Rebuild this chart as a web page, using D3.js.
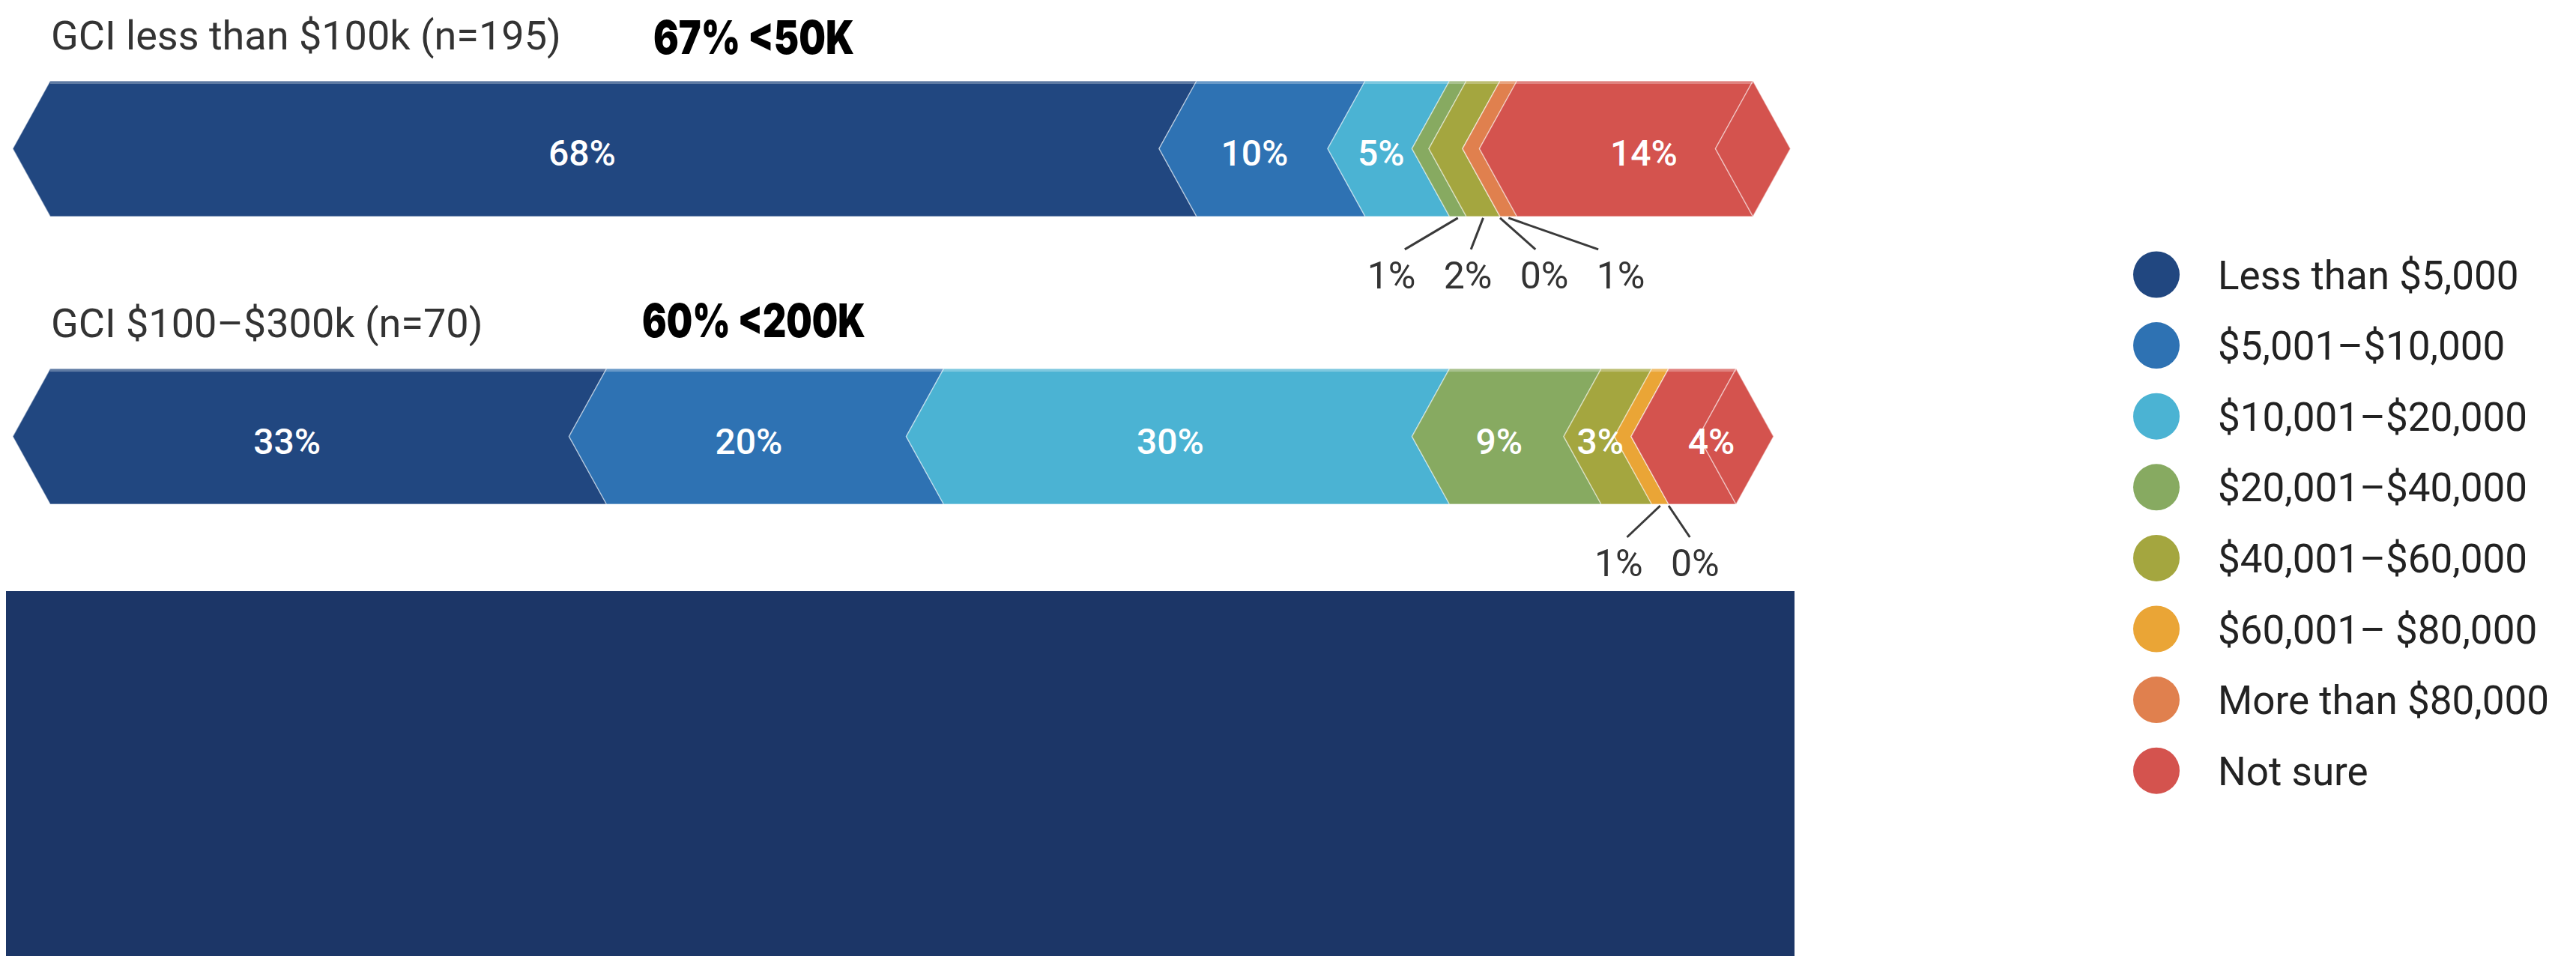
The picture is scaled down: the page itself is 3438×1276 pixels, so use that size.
<!DOCTYPE html>
<html>
<head>
<meta charset="utf-8">
<script src="https://cdn.jsdelivr.net/npm/d3@7"></script>
<style>
  body { margin: 0; background: #fff; }
  svg { display: block; }
</style>
</head>
<body>
<div id="chart"></div>
<script>
// data
const categories = ["Less than $5,000", "$5,001–$10,000", "$10,001–$20,000", "$20,001–$40,000",
    "$40,001–$60,000", "$60,001– $80,000", "More than $80,000", "Not sure"];
const groups = ["GCI less than $100k (n=195)", "GCI $100–$300k (n=70)"];
const notes = ["67% <50K", "60% <200K"];
const valuesUnder100k = [68, 10, 5, 1, 2, 0, 1, 14];
const values100to300k = [33, 20, 30, 9, 3, 1, 0, 4];
const colors = ["#214780", "#2e72b3", "#4bb3d3", "#87aa61", "#a4a63f", "#eaa536", "#e0804e", "#d4534e"];

function init() {
    const w = 3438;
    const h = 1276;
    const d = 50; // chevron depth
    const smallShift = [25, -10]; // nudge for the leader labels of each row

    const rows = [valuesUnder100k, values100to300k];

    const svg = d3.select("#chart")
        .append("svg")
        .attr("width", w)
        .attr("height", h);

    const xScale = d3.scaleLinear()
        .domain([0, 100])
        .range([67, 2317]);

    const yScale = d3.scaleBand()
        .domain(groups)
        .range([108, 673])
        .paddingInner(0.529)
        .paddingOuter(0);

    const color = d3.scaleOrdinal()
        .domain(categories)
        .range(colors);

    rows.forEach((vals, r) => {
        const y0 = yScale(groups[r]);
        const y1 = y0 + yScale.bandwidth();
        const ym = (y0 + y1) / 2;

        // stack the row
        const segs = [];
        let acc = 0;
        vals.forEach((v, i) => {
            segs.push({ cat: categories[i], v: v, a: acc, b: acc + v, i: i });
            acc += v;
        });

        const g = svg.append("g");

        // title + handwritten note
        svg.append("text")
            .attr("x", 68)
            .attr("y", y0 - 42)
            .attr("font-family", "Roboto, sans-serif")
            .attr("font-size", 54)
            .attr("fill", "#333")
            .text(groups[r]);

        svg.append("text")
            .attr("x", r === 0 ? 872 : 857)
            .attr("y", y0 - (r === 0 ? 36 : 42))
            .attr("font-family", "Inter, sans-serif")
            .attr("font-weight", 900)
            .attr("font-size", 62)
            .attr("textLength", r === 0 ? 268 : 298)
            .attr("lengthAdjust", "spacingAndGlyphs")
            .attr("fill", "#000")
            .text(notes[r]);

        g.selectAll("polygon.seg")
            .data(segs)
            .enter()
            .append("polygon")
            .attr("class", "seg")
            .attr("points", (s) => {
                const x0 = xScale(s.a), x1 = xScale(s.b);
                return [[x0, y0], [x1, y0], [x1 - d, ym], [x1, y1], [x0, y1], [x0 - d, ym]].join(" ");
            })
            .attr("fill", (s) => color(s.cat))
            .attr("stroke", "rgba(255,255,255,0.45)")
            .attr("stroke-width", 1.5)
            .attr("stroke-linejoin", "round");

        // end cap in the last colour
        const last = segs[segs.length - 1];
        const xe = xScale(last.b);
        g.append("polygon")
            .attr("points", [[xe, y0], [xe + d, ym], [xe, y1], [xe - d, ym]].join(" "))
            .attr("fill", color(last.cat))
            .attr("stroke", "rgba(255,255,255,0.45)")
            .attr("stroke-width", 1.5);

        // top highlight
        g.append("rect")
            .attr("x", xScale(0))
            .attr("y", y0)
            .attr("width", xe - xScale(0))
            .attr("height", 4)
            .attr("fill", "rgba(255,255,255,0.28)");

        // labels inside
        g.selectAll("text.in")
            .data(segs.filter((s) => s.v >= 3))
            .enter()
            .append("text")
            .attr("class", "in")
            .attr("x", (s) => xScale((s.a + s.b) / 2) + (s === last ? 12 : (s.i === 0 ? -55 : -35)))
            .attr("y", ym + 23)
            .attr("text-anchor", "middle")
            .attr("font-family", "Roboto, sans-serif")
            .attr("font-weight", 500)
            .attr("font-size", 48)
            .attr("fill", "#fff")
            .text((s) => s.v + "%");

        // small values: leader lines + labels below
        const small = segs.filter((s) => s.v < 3);
        const anchors = small.map((s) => xScale((s.a + s.b) / 2));
        const mean = d3.mean(anchors);
        const gap = 102;
        small.forEach((s, k) => {
            const lx = mean + smallShift[r] + (k - (small.length - 1) / 2) * gap;
            const ax = anchors[k];
            g.append("line")
                .attr("x1", ax)
                .attr("y1", y1 + 2)
                .attr("x2", lx + (ax - lx) * 0.2)
                .attr("y2", y1 + 44)
                .attr("stroke", "#3a3a3a")
                .attr("stroke-width", 3);
            g.append("text")
                .attr("x", lx)
                .attr("y", y1 + 96)
                .attr("text-anchor", "middle")
                .attr("font-family", "Roboto, sans-serif")
                .attr("font-size", 50)
                .attr("fill", "#333")
                .text(s.v + "%");
        });
    });

    // dark panel below
    svg.append("rect")
        .attr("x", 8)
        .attr("y", 789)
        .attr("width", 2387)
        .attr("height", h - 789)
        .attr("fill", "#1c3667");

    // legend
    const legend = svg.append("g")
        .selectAll("g")
        .data(categories)
        .enter()
        .append("g")
        .attr("transform", (c, i) => "translate(2878," + (366.5 + i * 94.6) + ")");

    legend.append("circle")
        .attr("r", 31)
        .attr("fill", (c) => color(c));

    legend.append("text")
        .attr("x", 82)
        .attr("y", 19)
        .attr("font-family", "Roboto, sans-serif")
        .attr("font-size", 53)
        .attr("fill", "#222")
        .text((c) => c);
}
window.onload = init;
</script>
</body>
</html>
